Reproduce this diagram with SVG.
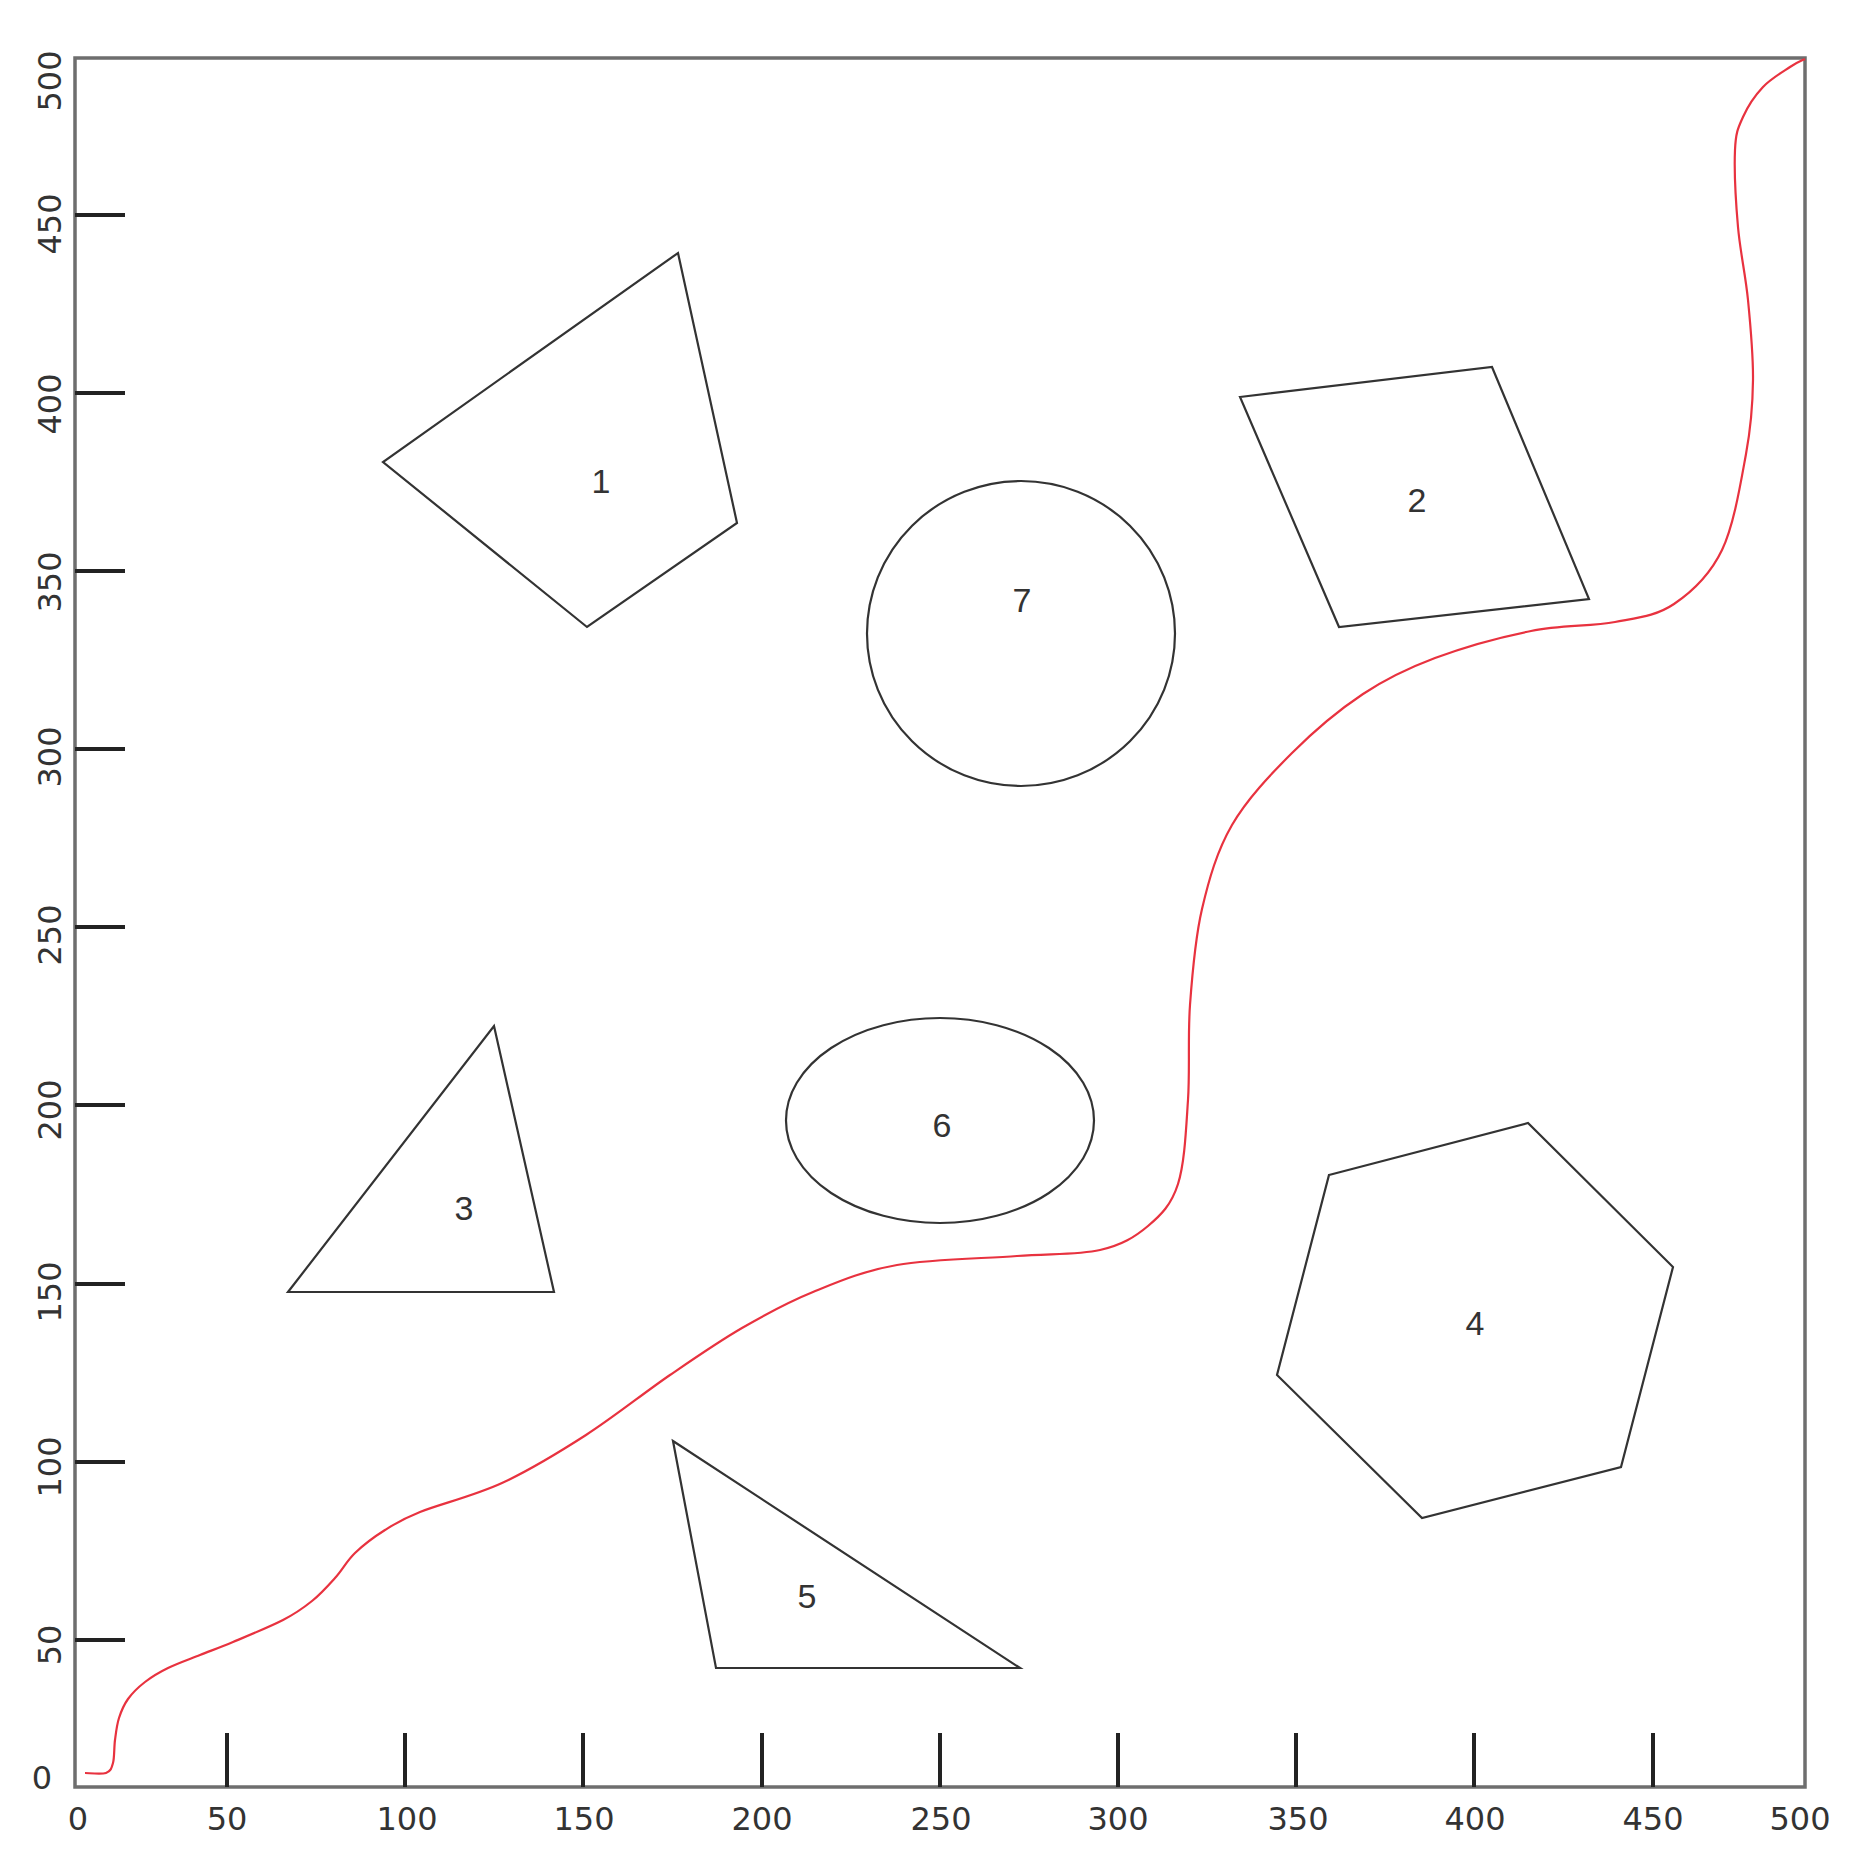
<svg xmlns="http://www.w3.org/2000/svg" width="1866" height="1875" viewBox="0 0 1866 1875">
<style>
.frame{fill:none;stroke:#6e6e6e;stroke-width:3.5}
.tick{stroke:#222;stroke-width:4}
.ax{font-family:"DejaVu Sans",sans-serif;font-size:32px;fill:#333;text-anchor:middle}
.shape{fill:none;stroke:#333;stroke-width:2.2}
.lbl{font-family:"Liberation Sans",Arial,sans-serif;font-size:34px;fill:#333;text-anchor:middle}
.path{fill:none;stroke:#e8323f;stroke-width:2.2}
</style>
<rect width="1866" height="1875" fill="#fff"/>
<g id="axes">
<rect class="frame" x="75" y="58" width="1730" height="1729"/>
<g id="yticks">
<line class="tick" x1="75" y1="215" x2="125" y2="215"/>
<line class="tick" x1="75" y1="393" x2="125" y2="393"/>
<line class="tick" x1="75" y1="571" x2="125" y2="571"/>
<line class="tick" x1="75" y1="749" x2="125" y2="749"/>
<line class="tick" x1="75" y1="927" x2="125" y2="927"/>
<line class="tick" x1="75" y1="1105" x2="125" y2="1105"/>
<line class="tick" x1="75" y1="1284" x2="125" y2="1284"/>
<line class="tick" x1="75" y1="1462" x2="125" y2="1462"/>
<line class="tick" x1="75" y1="1640" x2="125" y2="1640"/>
</g>
<g id="xticks">
<line class="tick" x1="227" y1="1733" x2="227" y2="1787"/>
<line class="tick" x1="405" y1="1733" x2="405" y2="1787"/>
<line class="tick" x1="583" y1="1733" x2="583" y2="1787"/>
<line class="tick" x1="762" y1="1733" x2="762" y2="1787"/>
<line class="tick" x1="940" y1="1733" x2="940" y2="1787"/>
<line class="tick" x1="1118" y1="1733" x2="1118" y2="1787"/>
<line class="tick" x1="1296" y1="1733" x2="1296" y2="1787"/>
<line class="tick" x1="1474" y1="1733" x2="1474" y2="1787"/>
<line class="tick" x1="1653" y1="1733" x2="1653" y2="1787"/>
</g>
<g id="xlabels">
<text class="ax" x="78" y="1830">0</text>
<text class="ax" x="227" y="1830">50</text>
<text class="ax" x="407" y="1830">100</text>
<text class="ax" x="584" y="1830">150</text>
<text class="ax" x="762" y="1830">200</text>
<text class="ax" x="941" y="1830">250</text>
<text class="ax" x="1118" y="1830">300</text>
<text class="ax" x="1298" y="1830">350</text>
<text class="ax" x="1475" y="1830">400</text>
<text class="ax" x="1653" y="1830">450</text>
<text class="ax" x="1800" y="1830">500</text>
</g>
<g id="ylabels">
<text class="ax" x="42" y="1789">0</text>
<text class="ax" transform="translate(61,1645) rotate(-90)">50</text>
<text class="ax" transform="translate(61,1467) rotate(-90)">100</text>
<text class="ax" transform="translate(61,1292) rotate(-90)">150</text>
<text class="ax" transform="translate(61,1110) rotate(-90)">200</text>
<text class="ax" transform="translate(61,935) rotate(-90)">250</text>
<text class="ax" transform="translate(61,757) rotate(-90)">300</text>
<text class="ax" transform="translate(61,582) rotate(-90)">350</text>
<text class="ax" transform="translate(61,404) rotate(-90)">400</text>
<text class="ax" transform="translate(61,224) rotate(-90)">450</text>
<text class="ax" transform="translate(61,81) rotate(-90)">500</text>
</g>
</g>
<g id="node1">
<polygon class="shape" points="678,253 737,523 587,627 383,462"/>
<text class="lbl" x="601" y="493">1</text>
</g>
<g id="node2">
<polygon class="shape" points="1240,397 1492,367 1589,599 1339,627"/>
<text class="lbl" x="1417" y="512">2</text>
</g>
<g id="node3">
<polygon class="shape" points="494,1026 554,1292 288,1292"/>
<text class="lbl" x="464" y="1220">3</text>
</g>
<g id="node4">
<polygon class="shape" points="1329,1175 1528,1123 1673,1267 1621,1467 1422,1518 1277,1375"/>
<text class="lbl" x="1475" y="1335">4</text>
</g>
<g id="node5">
<polygon class="shape" points="673,1441 1020,1668 716,1668"/>
<text class="lbl" x="807" y="1608">5</text>
</g>
<g id="node6">
<ellipse class="shape" cx="940" cy="1120.5" rx="154" ry="102.5"/>
<text class="lbl" x="942" y="1137">6</text>
</g>
<g id="node7">
<ellipse class="shape" cx="1021" cy="633.5" rx="154" ry="152.5"/>
<text class="lbl" x="1022" y="612">7</text>
</g>
<g id="connectors">
<path class="path" d="M85,1773 C88.5,1773 101.3,1774.7 106,1773 C110.7,1771.3 111.5,1768.5 113,1763 C114.5,1757.5 114,1747.5 115,1740 C116,1732.5 116.8,1724.8 119,1718 C121.2,1711.2 123.7,1705 128,1699 C132.3,1693 138.3,1687.2 145,1682 C151.7,1676.8 158.8,1672.5 168,1668 C177.2,1663.5 189.2,1659.3 200,1655 C210.8,1650.7 219.2,1647.8 233,1642 C246.8,1636.2 269.8,1626.8 283,1620 C296.2,1613.2 303.3,1608 312,1601 C320.7,1594 327.8,1586 335,1578 C342.2,1570 346.7,1561 355,1553 C363.3,1545 374.2,1536.8 385,1530 C395.8,1523.2 400.5,1519.8 420,1512 C439.5,1504.2 474.3,1495.8 502,1483 C529.7,1470.2 558,1453 586,1435 C614,1417 644,1392.8 670,1375 C696,1357.2 718.2,1341.8 742,1328 C765.8,1314.2 787.2,1302.5 813,1292 C838.8,1281.5 863,1271 897,1265 C931,1259 983.2,1258.5 1017,1256 C1050.8,1253.5 1078.2,1255 1100,1250 C1121.8,1245 1135,1237 1148,1226 C1161,1215 1171.3,1205 1178,1184 C1184.7,1163 1186,1129.8 1188,1100 C1190,1070.2 1187.7,1036.8 1190,1005 C1192.3,973.2 1195,939 1202,909 C1209,879 1217,851 1232,825 C1247,799 1270.2,774.8 1292,753 C1313.8,731.2 1339.2,709.8 1363,694 C1386.8,678.2 1407,668.5 1435,658 C1463,647.5 1501,637 1531,631 C1561,625 1591.2,626.5 1615,622 C1638.8,617.5 1656.2,616 1674,604 C1691.8,592 1710,575 1722,550 C1734,525 1740.8,482.3 1746,454 C1751.2,425.7 1752.7,405.7 1753,380 C1753.3,354.3 1750.5,325.5 1748,300 C1745.5,274.5 1740.2,252 1738,227 C1735.8,202 1734.2,168.3 1735,150 C1735.8,131.7 1738.3,127.5 1743,117 C1747.7,106.5 1755.2,95.3 1763,87 C1770.8,78.7 1783,71.7 1790,67 C1797,62.3 1802.5,60.3 1805,59"/>
</g>
</svg>
